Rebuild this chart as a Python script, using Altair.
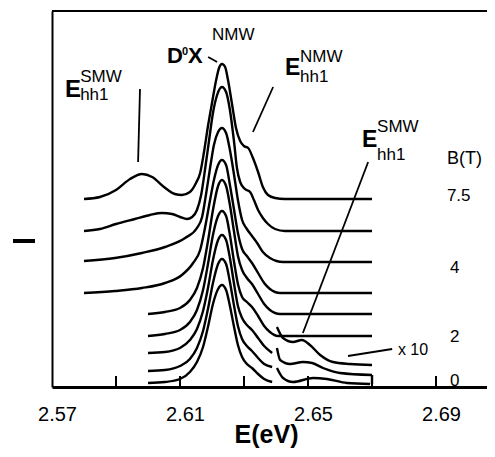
import altair as alt
import pandas as pd

# ---------------- spectra: photon energy (eV) and PL intensity (arb. units, offset) ----------------
# B = 7.5 T (top)
c1_E = [2.58, 2.585, 2.59, 2.5944, 2.5981, 2.6013, 2.605, 2.6084, 2.6106, 2.6131, 2.615, 2.6163, 2.6175,
        2.6188, 2.62, 2.6213, 2.6222, 2.6231, 2.6241, 2.625, 2.6263, 2.6275, 2.6288, 2.63, 2.6313, 2.6328,
        2.6344, 2.6359, 2.6375, 2.6397, 2.6428, 2.67]
c1_I = [188, 190, 197, 208, 213, 210, 200, 193, 192, 195, 204, 214, 235,
        262, 284, 307, 319, 323, 320, 307, 282, 259, 246, 241, 239, 229,
        215, 200, 192, 189, 188, 188]
c2_E = [2.58, 2.585, 2.59, 2.5959, 2.6006, 2.6044, 2.6075, 2.61, 2.6122, 2.6138, 2.6153, 2.6166, 2.6178,
        2.6191, 2.6203, 2.6216, 2.6231, 2.6244, 2.6256, 2.6269, 2.6278, 2.6288, 2.6303, 2.6319, 2.6331,
        2.6344, 2.6359, 2.6375, 2.6397, 2.6428, 2.67]
c2_I = [156, 158, 163, 168, 172, 174, 173, 170, 168, 170, 177, 192, 217,
        247, 274, 292, 300, 295, 277, 245, 219, 205, 198, 195, 187,
        177, 169, 163, 158, 156, 156]
c3_E = [2.58, 2.5897, 2.5981, 2.6053, 2.6116, 2.6153, 2.6169, 2.6181, 2.6194, 2.6206, 2.6219, 2.6231,
        2.6244, 2.6256, 2.6269, 2.6281, 2.6294, 2.6309, 2.6325, 2.6341, 2.6359, 2.6381, 2.6422, 2.67]
c3_I = [126, 129, 134, 140, 149, 159, 170, 192, 219, 242, 255, 259,
        254, 237, 212, 187, 167, 158, 151, 144, 135, 129, 125, 125]
c4_E = [2.58, 2.5897, 2.5981, 2.6053, 2.6106, 2.6141, 2.6163, 2.6178, 2.6194, 2.6206, 2.6219, 2.6231,
        2.6244, 2.6256, 2.6269, 2.6281, 2.6294, 2.6309, 2.6325, 2.6344, 2.6363, 2.6381, 2.6413, 2.67]
c4_I = [94, 96, 99, 104, 112, 124, 137, 159, 187, 207, 222, 227,
        222, 202, 177, 154, 138, 131, 124, 114, 104, 98, 94, 94]
c5_E = [2.6, 2.6053, 2.61, 2.6131, 2.6153, 2.6172, 2.6188, 2.6203, 2.6219, 2.6231, 2.6244, 2.6256,
        2.6269, 2.6281, 2.6294, 2.6309, 2.6325, 2.6344, 2.6363, 2.6381, 2.6413, 2.67]
c5_I = [73, 75, 79, 87, 99, 119, 147, 177, 201, 207, 201, 182,
        155, 131, 117, 109, 103, 93, 83, 77, 73, 73]
c6_E = [2.6, 2.6053, 2.61, 2.6131, 2.6153, 2.6172, 2.6188, 2.6203, 2.6219, 2.6231, 2.6244, 2.6256,
        2.6269, 2.6281, 2.6294, 2.6309, 2.6325, 2.6344, 2.6363, 2.6381, 2.6406, 2.67]
c6_I = [51, 53, 57, 65, 77, 97, 124, 152, 171, 176, 171, 152,
        125, 103, 90, 85, 80, 71, 61, 55, 51, 51]
low_E = [2.6, 2.6053, 2.61, 2.6131, 2.6153, 2.6172, 2.6188, 2.6203, 2.6219, 2.6231, 2.6244, 2.6256,
         2.6269, 2.6281, 2.6294, 2.6309, 2.6325, 2.6344, 2.6363, 2.6388]
c7_I = [34, 35, 39, 47, 58, 76, 100, 127, 147, 152, 147, 129,
        103, 81, 69, 62, 57, 49, 41, 34]
c8_I = [16, 17, 21, 28, 39, 56, 79, 104, 123, 128, 123, 105,
        81, 61, 48, 41, 36, 29, 23, 20]
c9_I = [4, 5, 8, 15, 25, 40, 61, 83, 98, 102, 97, 81,
        60, 42, 30, 23, 19, 13, 8, 5]
# high-energy parts magnified x10
c7x_E = [2.6403, 2.6422, 2.6453, 2.6481, 2.6506, 2.6538, 2.6578, 2.6631, 2.67]
c7x_I = [60, 49, 45, 47, 42, 32, 25, 23, 22]
c8x_E = [2.6403, 2.6413, 2.6444, 2.6484, 2.6513, 2.6547, 2.66, 2.67]
c8x_I = [39, 27, 23, 25, 24, 19, 14, 12]
c9x_E = [2.6403, 2.6422, 2.6453, 2.6516, 2.6559, 2.6622, 2.6694]
c9x_I = [19, 9, 5, 9, 8, 4, 3]
close_E = [2.67]
close_I0 = [3]
close_I1 = [12]

# axis ticks (drawn inside the frame)
tick_E = [2.59, 2.61, 2.63, 2.65, 2.67, 2.69]
label_E = [2.57, 2.61, 2.65, 2.69]

# annotation texts
bold_text = ["E", "D", "0", "X", "E", "E"]
bold_E = [2.5741, 2.6059, 2.6106, 2.6125, 2.6428, 2.6669]
bold_I = [290, 324, 332, 324, 312, 240]
bold_size = [24, 22, 11, 22, 23, 23]
reg_text = ["SMW", "hh1", "NMW", "NMW", "hh1", "SMW", "hh1", "B(T)", "7.5", "4", "2", "0", "x 10"]
reg_E = [2.5788, 2.5788, 2.62, 2.6475, 2.6475, 2.6716, 2.6716, 2.6934, 2.6934, 2.6944, 2.6944, 2.6944, 2.6781]
reg_I = [305, 287, 347, 325, 305, 255, 227, 223, 186, 114, 45, 1, 32]
reg_size = [17, 17, 17, 17, 17, 17, 17, 18, 17, 17, 17, 17, 16]
# pointer lines
ptr_E1 = [2.5975, 2.6188, 2.6391, 2.6688, 2.6625]
ptr_I1 = [298, 330, 300, 225, 31]
ptr_E2 = [2.5969, 2.6216, 2.6328, 2.6484, 2.6763]
ptr_I2 = [225, 325, 255, 54, 38]
# short bar at the left of the frame
bar_I = [146]

# ---------------- tables ----------------
series = [("c1", c1_E, c1_I), ("c2", c2_E, c2_I), ("c3", c3_E, c3_I), ("c4", c4_E, c4_I),
          ("c5", c5_E, c5_I), ("c6", c6_E, c6_I), ("c7", low_E, c7_I), ("c8", low_E, c8_I),
          ("c9", low_E, c9_I), ("c7x", c7x_E, c7x_I), ("c8x", c8x_E, c8x_I), ("c9x", c9x_E, c9x_I)]
rows = []
for name, es, vs in series:
    for k, (e, v) in enumerate(zip(es, vs)):
        rows.append({"seg": name, "E": e, "I": v, "k": k})
df = pd.DataFrame(rows)
df_close = pd.DataFrame({"E": close_E, "I0": close_I0, "I1": close_I1})
df_ticks = pd.DataFrame({"E": tick_E})
df_bold = pd.DataFrame({"t": bold_text, "E": bold_E, "I": bold_I, "s": bold_size})
df_reg = pd.DataFrame({"t": reg_text, "E": reg_E, "I": reg_I, "s": reg_size})
df_ptr = pd.DataFrame({"E1": ptr_E1, "I1": ptr_I1, "E2": ptr_E2, "I2": ptr_I2})

W, H = 435, 376
FONT = "Liberation Sans"
xs = alt.Scale(domain=[2.57, 2.57 + W / 3200.0], nice=False, zero=False)
ys = alt.Scale(domain=[0, H], nice=False, zero=False)

xaxis = alt.Axis(values=label_E, format=".2f", labelFontSize=20, labelFont=FONT, labelColor="black",
                 labelPadding=17, labelOffset=5, labelFlush=False, ticks=False, tickSize=0,
                 domainColor="black", domainWidth=3, grid=False,
                 title="E(eV)", titleFont=FONT, titleFontSize=25, titleFontWeight="bold",
                 titleColor="black", titleBaseline="alphabetic", titleY=55, titleX=214)
yaxis = alt.Axis(domain=True, domainColor="black", domainWidth=2, ticks=False, labels=False,
                 grid=False, title=None)

lines = alt.Chart(df).mark_line(color="black", strokeWidth=2.4, interpolate="monotone").encode(
    x=alt.X("E:Q", scale=xs, axis=xaxis),
    y=alt.Y("I:Q", scale=ys, axis=yaxis),
    detail="seg:N", order="k:Q")

close = alt.Chart(df_close).mark_rule(color="black", strokeWidth=2.4).encode(
    x=alt.X("E:Q", scale=xs), y=alt.Y("I0:Q", scale=ys), y2="I1:Q")

ticks = alt.Chart(df_ticks).mark_rule(color="black", strokeWidth=2).encode(
    x=alt.X("E:Q", scale=xs), y=alt.value(H - 11), y2=alt.value(H))

ptr = alt.Chart(df_ptr).mark_rule(color="black", strokeWidth=1.8).encode(
    x=alt.X("E1:Q", scale=xs), y=alt.Y("I1:Q", scale=ys), x2="E2:Q", y2="I2:Q")

bold = alt.Chart(df_bold).mark_text(font=FONT, fontWeight="bold", color="black", align="left",
                                    baseline="alphabetic").encode(
    x=alt.X("E:Q", scale=xs), y=alt.Y("I:Q", scale=ys), text="t:N", size=alt.Size("s:Q", scale=None))

reg = alt.Chart(df_reg).mark_text(font=FONT, color="black", align="left",
                                  baseline="alphabetic").encode(
    x=alt.X("E:Q", scale=xs), y=alt.Y("I:Q", scale=ys), text="t:N", size=alt.Size("s:Q", scale=None))

bar = alt.Chart(pd.DataFrame({"I": bar_I})).mark_rule(color="black", strokeWidth=4).encode(
    x=alt.value(-39), x2=alt.value(-17), y=alt.Y("I:Q", scale=ys))

top = alt.Chart(pd.DataFrame({"I": [H]})).mark_rule(color="black", strokeWidth=2).encode(
    x=alt.value(0), x2=alt.value(W), y=alt.Y("I:Q", scale=ys))

chart = alt.layer(lines, close, ticks, ptr, bold, reg, bar, top).properties(
    width=W, height=H,
    autosize=alt.AutoSizeParams(type="none"),
    padding={"left": 44, "top": 3, "right": 0, "bottom": 62},
    background="white",
).configure_view(stroke=None)

chart.save("out.html", embed_options={"renderer": "svg", "actions": False})
